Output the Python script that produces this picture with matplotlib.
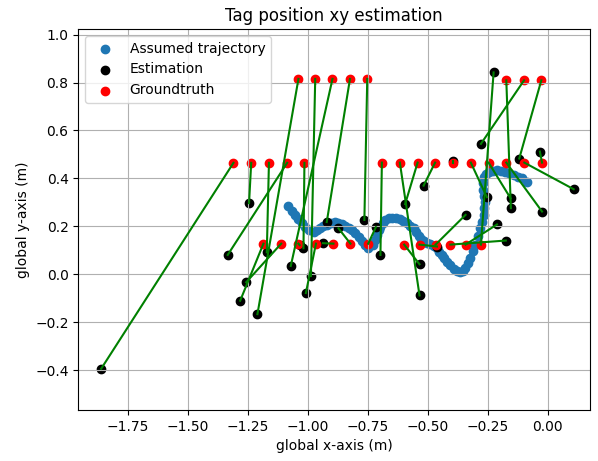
import numpy as np
import matplotlib
matplotlib.use("Agg")
import matplotlib.pyplot as plt

# assumed trajectory
traj_x = [-1.082, -1.068, -1.054, -1.040, -1.026, -1.012, -0.998, -0.977, -0.963, -0.950,
          -0.936, -0.922, -0.905, -0.887, -0.873, -0.859, -0.845, -0.831, -0.817, -0.803,
          -0.789, -0.775, -0.762, -0.748, -0.727, -0.720, -0.713, -0.706, -0.699, -0.689,
          -0.678, -0.664, -0.650, -0.633, -0.616, -0.602, -0.588, -0.574, -0.560, -0.549,
          -0.539, -0.528, -0.518, -0.504, -0.490, -0.476, -0.462, -0.452, -0.442, -0.431,
          -0.421, -0.407, -0.393, -0.379, -0.365, -0.354, -0.344, -0.333, -0.323, -0.313,
          -0.303, -0.292, -0.282, -0.275, -0.268, -0.264, -0.261, -0.266, -0.271, -0.269,
          -0.268, -0.257, -0.247, -0.230, -0.212, -0.195, -0.177, -0.160, -0.143, -0.125,
          -0.108, -0.087]
traj_y = [0.283, 0.266, 0.248, 0.230, 0.213, 0.198, 0.185, 0.178, 0.186, 0.193,
          0.200, 0.206, 0.214, 0.220, 0.216, 0.209, 0.201, 0.193, 0.183, 0.172,
          0.155, 0.137, 0.122, 0.109, 0.123, 0.143, 0.165, 0.183, 0.199, 0.214,
          0.227, 0.233, 0.237, 0.235, 0.231, 0.222, 0.213, 0.203, 0.193, 0.175,
          0.158, 0.147, 0.137, 0.131, 0.126, 0.118, 0.109, 0.095, 0.081, 0.067,
          0.053, 0.038, 0.023, 0.014, 0.009, 0.015, 0.026, 0.047, 0.068, 0.096,
          0.123, 0.158, 0.193, 0.220, 0.248, 0.275, 0.303, 0.328, 0.352, 0.380,
          0.408, 0.420, 0.428, 0.433, 0.435, 0.432, 0.428, 0.421, 0.415, 0.408,
          0.401, 0.387]

# groundtruth tag positions
gt_x = [-1.040, -0.970, -0.898, -0.825, -0.753,
        -0.173, -0.099, -0.027,
        -1.311, -1.237, -1.163, -1.087, -1.015,
        -0.692, -0.617, -0.543, -0.470, -0.394, -0.321, -0.247, -0.173, -0.098, -0.024,
        -1.186, -1.112, -1.040, -0.967, -0.894, -0.823, -0.749,
        -0.599, -0.535, -0.468, -0.406, -0.343, -0.279]
gt_y = [0.815, 0.815, 0.815, 0.815, 0.815,
        0.809, 0.809, 0.809,
        0.465, 0.465, 0.465, 0.465, 0.465,
        0.466, 0.466, 0.466, 0.466, 0.466, 0.466, 0.466, 0.466, 0.466, 0.466,
        0.128, 0.128, 0.128, 0.128, 0.128, 0.128, 0.128,
        0.124, 0.124, 0.124, 0.124, 0.124, 0.124]

# estimated positions (same order as groundtruth)
est_x = [-1.211, -0.988, -1.072, -0.922, -0.765,
         -0.154, -0.279, -0.119,
         -1.863, -1.246, -1.172, -1.335, -1.019,
         -0.698, -0.535, -0.595, -0.518, -0.394, -0.254, -0.155, -0.024, 0.108, -0.033,
         -1.283, -1.258, -1.035, -1.009, -0.938, -0.873, -0.717,
         -0.535, -0.462, -0.343, -0.175, -0.212, -0.226]
est_y = [-0.166, -0.007, 0.035, 0.218, 0.227,
         0.276, 0.544, 0.483,
         -0.394, 0.297, 0.092, 0.081, 0.109,
         0.081, -0.088, 0.293, 0.370, 0.474, 0.322, 0.317, 0.262, 0.355, 0.512,
         -0.110, -0.033, 0.122, -0.078, 0.130, 0.192, 0.197,
         0.042, 0.116, 0.248, 0.141, 0.208, 0.842]

fig = plt.figure(figsize=(5.98, 4.61), dpi=100)
ax = fig.add_subplot(111)
fig.subplots_adjust(left=0.131, right=0.987, top=0.937, bottom=0.111)

ax.scatter(traj_x, traj_y, label='Assumed trajectory')
ax.scatter(est_x, est_y, c='black', label='Estimation')
ax.scatter(gt_x, gt_y, c='red', label='Groundtruth')
for gx, gy, ex, ey in zip(gt_x, gt_y, est_x, est_y):
    ax.plot([gx, ex], [gy, ey], color='green')

ax.set_xlim(-1.958, 0.177)
ax.set_ylim(-0.565, 1.023)
ax.set_xlabel('global x-axis (m)')
ax.set_ylabel('global y-axis (m)')
ax.set_title('Tag position xy estimation')
ax.legend(loc='upper left')
ax.grid(True)

fig.savefig('out.png', dpi=100)
